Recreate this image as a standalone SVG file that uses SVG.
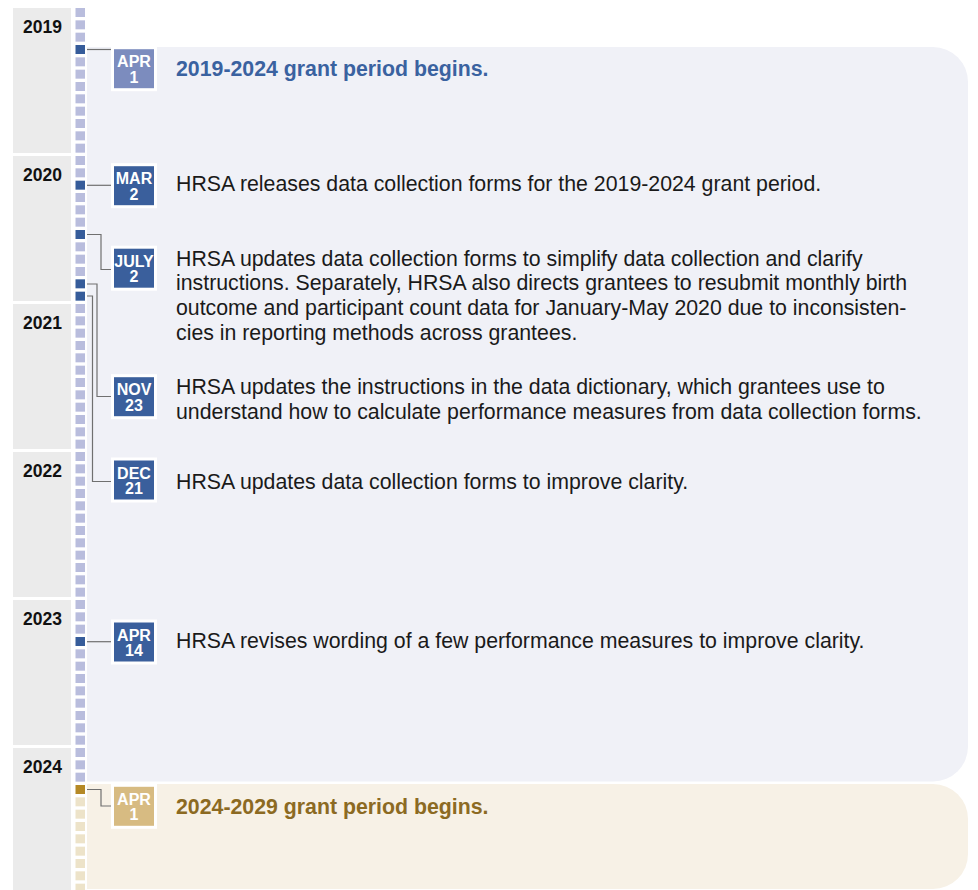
<svg xmlns="http://www.w3.org/2000/svg" width="978" height="890" viewBox="0 0 978 890">
<style>
.yr{fill:#ebebeb}
.yt{font-family:"Liberation Sans",Arial,sans-serif;font-weight:bold;font-size:17.5px;fill:#111;text-anchor:middle}
.sq{fill:#b9bddd}
.sqd{fill:#365c9a}
.sqt{fill:#ede3c9}
.sqg{fill:#b58926}
.bd{stroke:#fff;stroke-width:3}
.bt{font-family:"Liberation Sans",Arial,sans-serif;font-weight:bold;font-size:16px;fill:#fff;text-anchor:middle}
.tx{font-family:"Liberation Sans",Arial,sans-serif;font-size:21.3px;fill:#1a1a1a}
.ttl{font-family:"Liberation Sans",Arial,sans-serif;font-size:21.3px;font-weight:bold}
.cn{fill:none;stroke:#707070;stroke-width:1.2}
</style>
<rect width="978" height="890" fill="#fff"/>
<g id="panels">
<path d="M87,47 H933 A35,35 0 0 1 968,82 V746.5 A35,35 0 0 1 933,781.5 H87 Z" fill="#f0f1f7"/>
<path d="M87,784 H933 A35,35 0 0 1 968,819 V854 A35,35 0 0 1 933,889 H87 Z" fill="#f7f1e6"/>
</g>
<g id="years">
<rect class="yr" x="13" y="8" width="58" height="145"/>
<rect class="yr" x="13" y="156" width="58" height="145"/>
<rect class="yr" x="13" y="304" width="58" height="145"/>
<rect class="yr" x="13" y="452" width="58" height="145"/>
<rect class="yr" x="13" y="600" width="58" height="145"/>
<rect class="yr" x="13" y="748" width="58" height="145"/>
<text class="yt" x="42.5" y="33">2019</text>
<text class="yt" x="42.5" y="181">2020</text>
<text class="yt" x="42.5" y="329">2021</text>
<text class="yt" x="42.5" y="477">2022</text>
<text class="yt" x="42.5" y="625">2023</text>
<text class="yt" x="42.5" y="773">2024</text>
</g>
<g id="months">
<rect class="sq" x="75.5" y="8" width="9.5" height="9"/>
<rect class="sq" x="75.5" y="20.33" width="9.5" height="9"/>
<rect class="sq" x="75.5" y="32.67" width="9.5" height="9"/>
<rect class="sqd" x="75.5" y="45" width="9.5" height="9"/>
<rect class="sq" x="75.5" y="57.33" width="9.5" height="9"/>
<rect class="sq" x="75.5" y="69.67" width="9.5" height="9"/>
<rect class="sq" x="75.5" y="82" width="9.5" height="9"/>
<rect class="sq" x="75.5" y="94.33" width="9.5" height="9"/>
<rect class="sq" x="75.5" y="106.67" width="9.5" height="9"/>
<rect class="sq" x="75.5" y="119" width="9.5" height="9"/>
<rect class="sq" x="75.5" y="131.33" width="9.5" height="9"/>
<rect class="sq" x="75.5" y="143.67" width="9.5" height="9"/>
<rect class="sq" x="75.5" y="156" width="9.5" height="9"/>
<rect class="sq" x="75.5" y="168.33" width="9.5" height="9"/>
<rect class="sqd" x="75.5" y="180.67" width="9.5" height="9"/>
<rect class="sq" x="75.5" y="193" width="9.5" height="9"/>
<rect class="sq" x="75.5" y="205.33" width="9.5" height="9"/>
<rect class="sq" x="75.5" y="217.67" width="9.5" height="9"/>
<rect class="sqd" x="75.5" y="230" width="9.5" height="9"/>
<rect class="sq" x="75.5" y="242.33" width="9.5" height="9"/>
<rect class="sq" x="75.5" y="254.67" width="9.5" height="9"/>
<rect class="sq" x="75.5" y="267" width="9.5" height="9"/>
<rect class="sqd" x="75.5" y="279.33" width="9.5" height="9"/>
<rect class="sqd" x="75.5" y="291.67" width="9.5" height="9"/>
<rect class="sq" x="75.5" y="304" width="9.5" height="9"/>
<rect class="sq" x="75.5" y="316.33" width="9.5" height="9"/>
<rect class="sq" x="75.5" y="328.67" width="9.5" height="9"/>
<rect class="sq" x="75.5" y="341" width="9.5" height="9"/>
<rect class="sq" x="75.5" y="353.33" width="9.5" height="9"/>
<rect class="sq" x="75.5" y="365.67" width="9.5" height="9"/>
<rect class="sq" x="75.5" y="378" width="9.5" height="9"/>
<rect class="sq" x="75.5" y="390.33" width="9.5" height="9"/>
<rect class="sq" x="75.5" y="402.67" width="9.5" height="9"/>
<rect class="sq" x="75.5" y="415" width="9.5" height="9"/>
<rect class="sq" x="75.5" y="427.33" width="9.5" height="9"/>
<rect class="sq" x="75.5" y="439.67" width="9.5" height="9"/>
<rect class="sq" x="75.5" y="452" width="9.5" height="9"/>
<rect class="sq" x="75.5" y="464.33" width="9.5" height="9"/>
<rect class="sq" x="75.5" y="476.67" width="9.5" height="9"/>
<rect class="sq" x="75.5" y="489" width="9.5" height="9"/>
<rect class="sq" x="75.5" y="501.33" width="9.5" height="9"/>
<rect class="sq" x="75.5" y="513.67" width="9.5" height="9"/>
<rect class="sq" x="75.5" y="526" width="9.5" height="9"/>
<rect class="sq" x="75.5" y="538.33" width="9.5" height="9"/>
<rect class="sq" x="75.5" y="550.67" width="9.5" height="9"/>
<rect class="sq" x="75.5" y="563" width="9.5" height="9"/>
<rect class="sq" x="75.5" y="575.33" width="9.5" height="9"/>
<rect class="sq" x="75.5" y="587.67" width="9.5" height="9"/>
<rect class="sq" x="75.5" y="600" width="9.5" height="9"/>
<rect class="sq" x="75.5" y="612.33" width="9.5" height="9"/>
<rect class="sq" x="75.5" y="624.67" width="9.5" height="9"/>
<rect class="sqd" x="75.5" y="637" width="9.5" height="9"/>
<rect class="sq" x="75.5" y="649.33" width="9.5" height="9"/>
<rect class="sq" x="75.5" y="661.67" width="9.5" height="9"/>
<rect class="sq" x="75.5" y="674" width="9.5" height="9"/>
<rect class="sq" x="75.5" y="686.33" width="9.5" height="9"/>
<rect class="sq" x="75.5" y="698.67" width="9.5" height="9"/>
<rect class="sq" x="75.5" y="711" width="9.5" height="9"/>
<rect class="sq" x="75.5" y="723.33" width="9.5" height="9"/>
<rect class="sq" x="75.5" y="735.67" width="9.5" height="9"/>
<rect class="sq" x="75.5" y="748" width="9.5" height="9"/>
<rect class="sq" x="75.5" y="760.33" width="9.5" height="9"/>
<rect class="sq" x="75.5" y="772.67" width="9.5" height="9"/>
<rect class="sqg" x="75.5" y="785" width="9.5" height="9"/>
<rect class="sqt" x="75.5" y="797.33" width="9.5" height="9"/>
<rect class="sqt" x="75.5" y="809.67" width="9.5" height="9"/>
<rect class="sqt" x="75.5" y="822" width="9.5" height="9"/>
<rect class="sqt" x="75.5" y="834.33" width="9.5" height="9"/>
<rect class="sqt" x="75.5" y="846.67" width="9.5" height="9"/>
<rect class="sqt" x="75.5" y="859" width="9.5" height="9"/>
<rect class="sqt" x="75.5" y="871.33" width="9.5" height="9"/>
<rect class="sqt" x="75.5" y="883.67" width="9.5" height="9"/>
</g>
<g id="connectors">
<path class="cn" d="M87,49.5 H111"/>
<path class="cn" d="M87,185.3 H111"/>
<path class="cn" d="M87,234.5 H101 V269.5 H111"/>
<path class="cn" d="M87,284 H97 V396.5 H111"/>
<path class="cn" d="M87,296 H92.5 V481.5 H111"/>
<path class="cn" d="M87,641.7 H111"/>
<path class="cn" d="M87,789.5 H101 V806 H111"/>
</g>
<g id="e2019">
<rect class="bd" x="112.5" y="47.7" width="43" height="42" fill="#7c8cbe"/>
<text class="bt" x="134" y="67">APR</text>
<text class="bt" x="134" y="82.5">1</text>
<text class="ttl" x="176" y="75.7" fill="#3a62a0">2019-2024 grant period begins.</text>
</g>
<g id="e2020mar">
<rect class="bd" x="112.5" y="164.7" width="43" height="42" fill="#3a5f9c"/>
<text class="bt" x="134" y="184.2">MAR</text>
<text class="bt" x="134" y="199.7">2</text>
<text class="tx" x="176" y="190.7">HRSA releases data collection forms for the 2019-2024 grant period.</text>
</g>
<g id="e2020jul">
<rect class="bd" x="112.5" y="247.2" width="43" height="42" fill="#3a5f9c"/>
<text class="bt" x="134" y="266.7">JULY</text>
<text class="bt" x="134" y="282.2">2</text>
<text class="tx" x="176" y="265.7">HRSA updates data collection forms to simplify data collection and clarify</text>
<text class="tx" x="176" y="290.3">instructions. Separately, HRSA also directs grantees to resubmit monthly birth</text>
<text class="tx" x="176" y="314.9">outcome and participant count data for January-May 2020 due to inconsisten-</text>
<text class="tx" x="176" y="339.5">cies in reporting methods across grantees.</text>
</g>
<g id="e2020nov">
<rect class="bd" x="112.5" y="375.7" width="43" height="42" fill="#3a5f9c"/>
<text class="bt" x="134" y="395.2">NOV</text>
<text class="bt" x="134" y="410.7">23</text>
<text class="tx" x="176" y="394">HRSA updates the instructions in the data dictionary, which grantees use to</text>
<text class="tx" x="176" y="418.6">understand how to calculate performance measures from data collection forms.</text>
</g>
<g id="e2020dec">
<rect class="bd" x="112.5" y="459" width="43" height="42" fill="#3a5f9c"/>
<text class="bt" x="134" y="478.5">DEC</text>
<text class="bt" x="134" y="494">21</text>
<text class="tx" x="176" y="488.5">HRSA updates data collection forms to improve clarity.</text>
</g>
<g id="e2023apr">
<rect class="bd" x="112.5" y="621" width="43" height="42" fill="#3a5f9c"/>
<text class="bt" x="134" y="640.5">APR</text>
<text class="bt" x="134" y="656">14</text>
<text class="tx" x="176" y="647.5">HRSA revises wording of a few performance measures to improve clarity.</text>
</g>
<g id="e2024">
<rect class="bd" x="112.5" y="785.3" width="43" height="42" fill="#d7bb82"/>
<text class="bt" x="134" y="804.8">APR</text>
<text class="bt" x="134" y="820.3">1</text>
<text class="ttl" x="176" y="813.5" fill="#8c6a22">2024-2029 grant period begins.</text>
</g>
</svg>
